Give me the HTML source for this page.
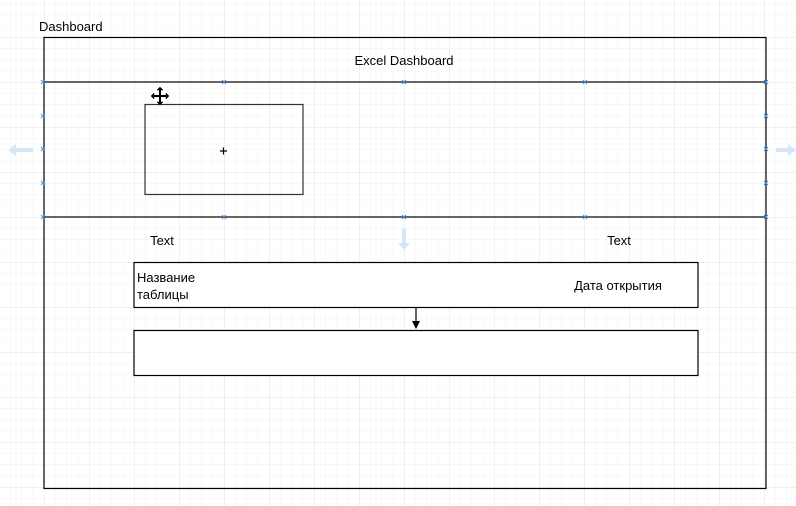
<!DOCTYPE html>
<html><head><meta charset="utf-8"><style>
html,body{margin:0;padding:0;background:#fff;}
svg{display:block;font-family:"Liberation Sans","Noto Sans CJK SC",sans-serif;}
</style></head><body>
<svg width="796" height="506" viewBox="0 0 796 506" xmlns="http://www.w3.org/2000/svg">
<defs>
<pattern id="minor" x="44" y="37" width="11.25" height="11.25" patternUnits="userSpaceOnUse">
<path d="M0 0H11.25M0 0V11.25" stroke="#f1f1f1" stroke-width="1" fill="none"/>
</pattern>
<pattern id="major" x="44" y="37" width="45" height="45" patternUnits="userSpaceOnUse">
<path d="M0 0H45M0 0V45" stroke="#e2e2e2" stroke-width="1" fill="none"/>
</pattern>
</defs>
<rect width="796" height="506" fill="url(#minor)"/>
<rect width="796" height="506" fill="url(#major)"/>
<text x="39" y="31" font-size="13" fill="#000">Dashboard</text>
<rect x="44" y="37.5" width="722" height="451" fill="none" stroke="#000" stroke-width="1.2"/>
<text x="404" y="65" font-size="13" text-anchor="middle">Excel Dashboard</text>
<line x1="44" y1="82" x2="766" y2="82" stroke="#333" stroke-width="1.5"/>
<line x1="44" y1="217" x2="766" y2="217" stroke="#333" stroke-width="1.5"/>
<g stroke="#4a90d9" stroke-width="1" font-size="0">
<path d="M41 80l4 4M45 80l-4 4M222 80l4 4M226 80l-4 4M402 80l4 4M406 80l-4 4M583 80l4 4M587 80l-4 4M764 80l4 4M768 80l-4 4"/>
<path d="M41 215l4 4M45 215l-4 4M222 215l4 4M226 215l-4 4M402 215l4 4M406 215l-4 4M583 215l4 4M587 215l-4 4M764 215l4 4M768 215l-4 4"/>
<path d="M41 114l4 4M45 114l-4 4M41 147l4 4M45 147l-4 4M41 181l4 4M45 181l-4 4M764 114l4 4M768 114l-4 4M764 147l4 4M768 147l-4 4M764 181l4 4M768 181l-4 4"/>
</g>
<path d="M8 150l8-6v4h17v4h-17v4z" fill="#d6e6f7"/>
<path d="M796 150l-8-6v4h-12v4h12v4z" fill="#d6e6f7"/>
<path d="M404 250l-6-7h4v-14h4v14h4z" fill="#d6e6f7"/>
<rect x="145" y="104.5" width="158" height="90" fill="none" stroke="#333" stroke-width="1.2"/>
<path d="M220 151h7M223.5 147.5v7" stroke="#000" stroke-width="1.2"/>
<g stroke="#000" stroke-width="2" fill="#000">
<path d="M160 89v14M153 96h14" fill="none"/>
<path d="M160 87l-3 3h6zM160 105l-3-3h6zM151 96l3-3v6zM169 96l-3-3v6z" stroke-width="0.5"/>
</g>
<text x="162" y="245" font-size="13" text-anchor="middle">Text</text>
<text x="619" y="245" font-size="13" text-anchor="middle">Text</text>
<rect x="134" y="262.5" width="564" height="45" fill="#fff" stroke="#000" stroke-width="1.2"/>
<text x="137" y="282" font-size="13">Название</text>
<text x="137" y="299" font-size="13">таблицы</text>
<text x="618" y="290" font-size="13" text-anchor="middle">Дата открытия</text>
<line x1="416" y1="308" x2="416" y2="324" stroke="#000" stroke-width="1.2"/>
<path d="M412 321l4 8 4-8z" fill="#000"/>
<rect x="134" y="330.5" width="564" height="45" fill="#fff" stroke="#000" stroke-width="1.2"/>
</svg>
</body></html>
